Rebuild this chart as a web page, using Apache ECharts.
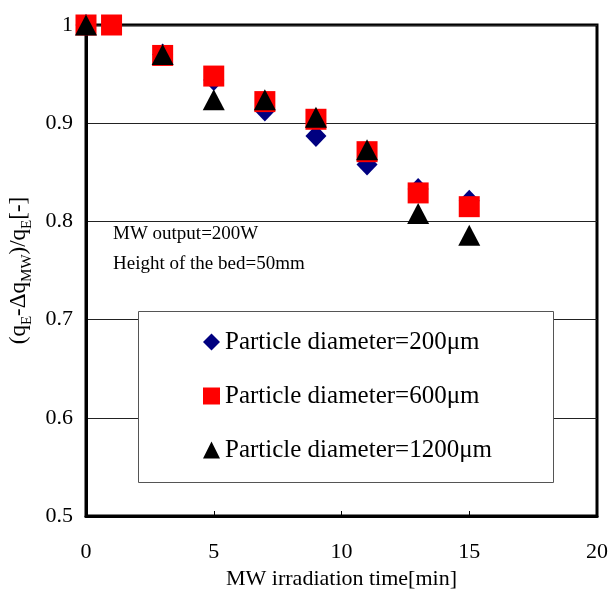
<!DOCTYPE html>
<html>
<head>
<meta charset="utf-8">
<script src="https://cdn.jsdelivr.net/npm/echarts@6/dist/echarts.min.js"></script>
<style>
  html, body { margin: 0; padding: 0; background: #fff; }
  #chart { width: 609px; height: 592px; }
</style>
</head>
<body>
<div id="chart"></div>
<script>
// Irradiation time in minutes with normalised adsorption ratio, per particle size
const seriesNames = [
  'Particle diameter=200\u03bcm',
  'Particle diameter=600\u03bcm',
  'Particle diameter=1200\u03bcm'
];
const d200 = [[0, 1.0], [3, 0.97], [5, 0.944], [7, 0.913], [9, 0.887], [11, 0.858], [13, 0.833], [15, 0.821]];
const d600 = [[0, 1.0], [1, 1.0], [3, 0.969], [5, 0.948], [7, 0.922], [9, 0.904], [11, 0.871], [13, 0.829], [15, 0.815]];
const d1200 = [[0, 1.0], [3, 0.97], [5, 0.924], [7, 0.924], [9, 0.906], [11, 0.873], [13, 0.808], [15, 0.786]];
const noteLines = ['MW output=200W', 'Height of the bed=50mm'];

const FONT = '"Liberation Serif", "DejaVu Serif", serif';

const chart = echarts.init(document.getElementById('chart'));
chart.setOption({
  animation: false,
  backgroundColor: '#fff',
  grid: {
    left: 86, right: 12, top: 25, bottom: 76,
    outerBoundsMode: 'none', containLabel: false,
    show: true, borderColor: '#000', borderWidth: 3, backgroundColor: 'transparent'
  },
  xAxis: {
    type: 'value', min: 0, max: 20, interval: 5,
    axisLine: { show: true, lineStyle: { color: '#000', width: 3 } },
    axisTick: { show: true, inside: true, length: 5, lineStyle: { color: '#000', width: 1 } },
    splitLine: { show: false },
    axisLabel: { color: '#000', fontFamily: FONT, fontSize: 22, margin: 25 },
    name: 'MW irradiation time[min]',
    nameLocation: 'middle', nameGap: 52,
    nameTextStyle: { color: '#000', fontFamily: FONT, fontSize: 22 }
  },
  yAxis: {
    type: 'value', min: 0.5, max: 1, interval: 0.1,
    axisLine: { show: true, lineStyle: { color: '#000', width: 3 } },
    axisTick: { show: false },
    splitLine: { show: true, lineStyle: { color: '#222', width: 1 } },
    axisLabel: { color: '#000', fontFamily: FONT, fontSize: 22, margin: 13 },
    name: '{a|(q}{s|E}{a|-\u0394q}{s|MW}{a|)/q}{s|E}{a|[-]}',
    nameLocation: 'middle', nameGap: 54, nameRotate: 90,
    nameTextStyle: {
      color: '#000', fontFamily: FONT,
      rich: {
        a: { fontFamily: FONT, fontSize: 23, color: '#000', lineHeight: 28, verticalAlign: 'bottom' },
        s: { fontFamily: FONT, fontSize: 15, color: '#000', lineHeight: 28, verticalAlign: 'bottom', padding: [0, 0, -4, 0] }
      }
    }
  },
  legend: {
    orient: 'vertical', left: 203, top: 329, itemGap: 28, padding: 0,
    itemWidth: 17, itemHeight: 17, z: 20,
    textStyle: { color: '#000', fontFamily: FONT, fontSize: 25, lineHeight: 26 },
    data: [
      { name: seriesNames[0], icon: 'diamond' },
      { name: seriesNames[1], icon: 'rect' },
      { name: seriesNames[2], icon: 'triangle' }
    ]
  },
  graphic: [
    {
      type: 'rect', z: 10, silent: true,
      shape: { x: 138.5, y: 311.5, width: 415, height: 171 },
      style: { fill: '#fff', stroke: '#555', lineWidth: 1 }
    },
    {
      type: 'text', z: 10, left: 113, top: 225,
      style: { text: noteLines[0], fill: '#000', font: '19px ' + FONT }
    },
    {
      type: 'text', z: 10, left: 113, top: 255,
      style: { text: noteLines[1], fill: '#000', font: '19px ' + FONT }
    }
  ],
  series: [
    {
      name: seriesNames[0], type: 'scatter', data: d200, clip: false, z: 3,
      symbol: 'diamond', symbolSize: [21, 22],
      itemStyle: { color: '#000080', opacity: 1 }
    },
    {
      name: seriesNames[1], type: 'scatter', data: d600, clip: false, z: 4,
      symbol: 'rect', symbolSize: 21,
      itemStyle: { color: '#ff0000', opacity: 1 }
    },
    {
      name: seriesNames[2], type: 'scatter', data: d1200, clip: false, z: 5,
      symbol: 'triangle', symbolSize: [22, 21],
      itemStyle: { color: '#000000', opacity: 1 }
    }
  ]
});
</script>
</body>
</html>
